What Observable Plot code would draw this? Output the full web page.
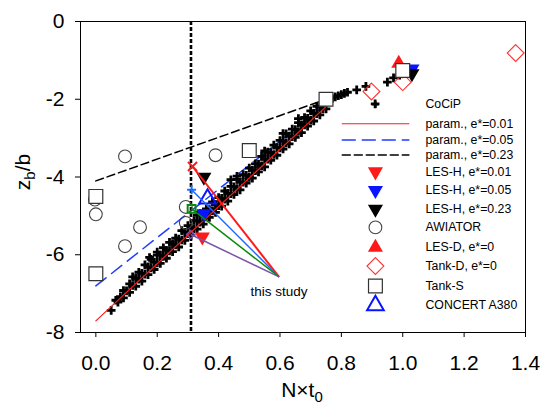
<!DOCTYPE html>
<html>
<head>
<meta charset="utf-8">
<script src="https://cdn.jsdelivr.net/npm/d3@7"></script>
<script src="https://cdn.jsdelivr.net/npm/@observablehq/plot@0.6"></script>
<style>
  body { margin: 0; background: #fff; }
  svg { display: block; }
</style>
</head>
<body>
<div id="chart"></div>
<script>
// Axis ticks
const xTicks = [0, 0.2, 0.4, 0.6, 0.8, 1.0, 1.2, 1.4];
const xTickLabels = ["0.0", "0.2", "0.4", "0.6", "0.8", "1.0", "1.2", "1.4"];
const yTicks = [-8, -6, -4, -2, 0];
const yTickLabels = ["-8", "-6", "-4", "-2", "0"];

// CoCiP simulation cloud (N*t0, zb/b)
const cocipX = [
  0.12,0.14,0.16,0.18,0.20,0.22,0.24,0.26,0.28,0.30,0.32,0.34,0.36,0.38,0.40,0.42,0.44,0.46,0.48,0.50,
  0.52,0.54,0.56,0.58,0.60,0.62,0.64,0.66,0.68,0.70,0.72,
  0.09,0.11,0.13,0.15,0.17,0.19,0.21,0.23,0.25,0.27,0.29,0.31,0.33,0.35,0.37,0.39,0.41,0.43,0.45,0.47,
  0.49,0.51,0.53,0.55,0.57,0.59,0.61,0.63,0.65,0.67,0.69,0.71,0.73,
  0.08,0.10,0.12,0.14,0.16,0.18,0.20,0.22,0.24,0.26,0.28,0.30,0.32,0.34,0.36,0.38,0.40,0.42,0.44,0.46,
  0.48,0.50,0.52,0.54,0.56,0.58,0.60,0.62,0.64,0.66,0.68,0.70,0.72,0.74,
  0.09,0.11,0.13,0.15,0.17,0.19,0.21,0.23,0.25,0.27,0.29,0.31,0.33,0.35,0.37,0.39,0.41,0.43,0.45,0.47,
  0.49,0.51,0.53,0.55,0.57,0.59,0.61,0.63,0.65,0.67,0.69,0.71,0.73,0.75,
  0.05,0.065,0.072,0.175,0.20,0.33,0.44,0.46,0.55,0.61,0.66,0.76,0.77,0.78,0.79,0.80,0.81,0.82,0.85,0.88,
  0.91,0.95,0.97,0.99
];
const cocipY = [
  -6.57,-6.45,-6.26,-6.12,-6.01,-5.82,-5.68,-5.57,-5.38,-5.25,-5.12,-4.94,-4.82,-4.64,-4.53,-4.36,-4.24,-4.06,-3.94,-3.77,
  -3.66,-3.47,-3.36,-3.18,-3.06,-2.89,-2.77,-2.60,-2.47,-2.30,-2.18,
  -6.92,-6.75,-6.60,-6.48,-6.31,-6.19,-6.01,-5.89,-5.72,-5.60,-5.42,-5.30,-5.13,-5.01,-4.84,-4.71,-4.55,-4.42,-4.25,-4.13,
  -3.96,-3.83,-3.67,-3.54,-3.37,-3.24,-3.08,-2.95,-2.78,-2.66,-2.49,-2.36,-2.20,
  -7.08,-6.93,-6.79,-6.63,-6.50,-6.34,-6.21,-6.04,-5.90,-5.75,-5.62,-5.46,-5.33,-5.16,-5.03,-4.87,-4.74,-4.57,-4.43,-4.30,
  -4.13,-4.01,-3.84,-3.71,-3.54,-3.42,-3.25,-3.12,-2.96,-2.83,-2.66,-2.54,-2.37,-2.24,
  -7.11,-6.97,-6.81,-6.68,-6.51,-6.38,-6.22,-6.09,-5.92,-5.80,-5.63,-5.50,-5.34,-5.21,-5.04,-4.91,-4.75,-4.62,-4.45,-4.33,
  -4.16,-4.03,-3.87,-3.74,-3.57,-3.44,-3.28,-3.15,-2.98,-2.86,-2.69,-2.56,-2.40,-2.25,
  -7.43,-7.17,-7.22,-6.07,-5.93,-4.98,-4.07,-3.98,-3.33,-2.88,-2.50,-2.03,-1.98,-1.94,-1.91,-1.88,-1.85,-1.82,-1.76,-1.67,
  -2.12,-1.56,-1.45,-1.38
];

// Parameterisation lines for three e* values
const paramX = [0, 0.75];
const param001Y = [-7.70, -2.19];
const param005Y = [-6.80, -2.14];
const param023Y = [-4.10, -2.00];

// LES-H results
const lesH001X = [0.347, 1.00];  const lesH001Y = [-5.54, -1.25];
const lesH005X = [0.352, 1.03];  const lesH005Y = [-4.94, -1.22];
const lesH023X = [0.352, 1.03];  const lesH023Y = [-4.00, -1.34];

// AWIATOR
const awiatorX = [0.095, 0.0, -0.003, 0.095, 0.144, 0.293, 0.293, 0.39];
const awiatorY = [-3.47, -4.96, -4.58, -5.78, -5.29, -4.77, -5.18, -3.44];

// LES-D, Tank-D, Tank-S, CONCERT
const lesDX = [0.987];            const lesDY = [-1.08];
const tankDX = [0.898, 1.0, 1.368]; const tankDY = [-1.80, -1.56, -0.81];
const tankSX = [0.0, 0.0, 0.5, 0.75, 1.0]; const tankSY = [-4.50, -6.49, -3.32, -2.00, -1.26];
const concertX = [0.364];         const concertY = [-4.56];

// This study
const studyX = [0.315, 0.312, 0.312, 0.309];
const studyY = [-3.73, -4.33, -4.82, -5.48];
const studyLabel = "this study";
const studyLabelAt = [0.597, -6.57];

// Reference stability value (vertical line)
const refNt0 = 0.31;

const legendLabels = [
  "CoCiP", "param., e*=0.01", "param., e*=0.05", "param., e*=0.23",
  "LES-H, e*=0.01", "LES-H, e*=0.05", "LES-H, e*=0.23", "AWIATOR",
  "LES-D, e*=0", "Tank-D, e*=0", "Tank-S", "CONCERT A380"
];

// ---- symbols & styles ----
const triangleDown = {
  draw(context, size) {
    const y = Math.sqrt(size / (Math.sqrt(3) * 3));
    context.moveTo(0, y * 2);
    context.lineTo(-Math.sqrt(3) * y, -y);
    context.lineTo(Math.sqrt(3) * y, -y);
    context.closePath();
  }
};

const RED = "#ff1a1a", BLUE = "#0a14ff", DASHBLUE = "#1f3dff";

const st = {
  cocipCloud: {symbol: "plus", r: 2.9, stroke: "black", strokeWidth: 2.8, fill: "none"},
  cocip:   {symbol: "plus", r: 2.3, stroke: "black", strokeWidth: 2.2, fill: "none"},
  les001:  {symbol: triangleDown, r: 5.6, fill: RED, stroke: "none"},
  les005:  {symbol: triangleDown, r: 5.6, fill: BLUE, stroke: "none"},
  les023:  {symbol: triangleDown, r: 5.6, fill: "black", stroke: "none"},
  awiator: {symbol: "circle", r: 6.4, fill: "none", stroke: "#444", strokeWidth: 1.1},
  lesD:    {symbol: "triangle", r: 5.6, fill: RED, stroke: "none"},
  tankD:   {symbol: "diamond2", r: 7.6, fill: "none", stroke: "#ff3030", strokeWidth: 1.1},
  tankS:   {symbol: "square", r: 7.8, fill: "white", stroke: "#333", strokeWidth: 1.2},
  concert: {symbol: "triangle", r: 6.2, fill: "none", stroke: BLUE, strokeWidth: 2}
};
const lineSt = {
  p001: {stroke: RED, strokeWidth: 1.2},
  p005: {stroke: DASHBLUE, strokeWidth: 1.5, strokeDasharray: "13,7"},
  p023: {stroke: "black", strokeWidth: 1.5, strokeDasharray: "8,4"}
};

const studySt = [
  {color: RED,       symbol: "times",    r: 4.2, strokeWidth: 2,   linkWidth: 2},
  {color: "#1f6bff", symbol: "plus",     r: 3.0, strokeWidth: 2,   linkWidth: 1.5},
  {color: "#0a8a0a", symbol: "square2",  r: 5.0, strokeWidth: 2,   linkWidth: 1.5},
  {color: "#7a55a8", symbol: "diamond2", r: 3.6, strokeWidth: 1.5, linkWidth: 1.5}
];

const pts = (xs, ys) => xs.map((x, i) => ({x, y: ys[i]}));
const dots = (xs, ys, s) => Plot.dot(pts(xs, ys), {x: "x", y: "y", ...s});
const pline = (ys, s) => Plot.line(pts(paramX, ys), {x: "x", y: "y", ...s});

// ---- legend layout (data coordinates inside the frame) ----
const legSymX = 0.911, legTextX = 1.074, legLine = [0.803, 1.020];
const legRowY = [-2.134, -2.630, -3.051, -3.437, -3.864, -4.344, -4.825, -5.296, -5.810, -6.290, -6.805, -7.301];
const legKinds = [st.cocip, lineSt.p001, lineSt.p005, lineSt.p023, st.les001, st.les005, st.les023,
                  st.awiator, st.lesD, st.tankD, st.tankS, st.concert];
const legendMarks = [];
legKinds.forEach((s, i) => {
  if (i >= 1 && i <= 3) {
    legendMarks.push(Plot.line([{x: legLine[0], y: legRowY[i]}, {x: legLine[1], y: legRowY[i]}], {x: "x", y: "y", ...s}));
  } else {
    legendMarks.push(Plot.dot([{x: legSymX, y: legRowY[i]}], {x: "x", y: "y", ...s}));
  }
});
legendMarks.push(Plot.text(legendLabels.map((t, i) => ({t, y: legRowY[i]})), {
  x: legTextX, y: "y", text: "t", textAnchor: "start", fontSize: 12.3, fill: "black"
}));

// ---- "this study" links ----
const studyData = studyX.map((x, i) => ({x, y: studyY[i], ...studySt[i]}));
const studyMarks = [];
studyData.forEach(d => {
  studyMarks.push(Plot.link([d], {x1: "x", y1: "y", x2: studyLabelAt[0], y2: studyLabelAt[1],
    stroke: d.color, strokeWidth: d.linkWidth}));
});
studyData.forEach(d => {
  studyMarks.push(Plot.dot([d], {x: "x", y: "y", symbol: d.symbol, r: d.r, stroke: d.color,
    strokeWidth: d.strokeWidth, fill: "none"}));
});

const plot = Plot.plot({
  width: 541,
  height: 404,
  marginLeft: 80,
  marginRight: 16,
  marginTop: 21,
  marginBottom: 72,
  style: {fontFamily: "'Liberation Sans', Arial, Helvetica, sans-serif", background: "white", color: "black"},
  x: {domain: [-0.05, 1.4]},
  y: {domain: [-8, 0]},
  marks: [
    Plot.axisX({ticks: xTicks, tickFormat: d => xTickLabels[xTicks.indexOf(d)], tickSize: 5, tickPadding: 18,
      fontSize: 21, label: null}),
    Plot.axisY({ticks: yTicks, tickFormat: d => yTickLabels[yTicks.indexOf(d)], tickSize: 5, tickPadding: 11,
      fontSize: 21, label: null}),
    pline(param023Y, lineSt.p023),
    pline(param005Y, lineSt.p005),
    Plot.ruleX([refNt0], {stroke: "black", strokeWidth: 2.6, strokeDasharray: "4,2"}),
    dots(cocipX, cocipY, st.cocipCloud),
    pline(param001Y, lineSt.p001),
    dots(awiatorX, awiatorY, st.awiator),
    dots(tankDX, tankDY, st.tankD),
    dots(lesH001X, lesH001Y, st.les001),
    dots(lesH005X, lesH005Y, st.les005),
    dots(lesH023X, lesH023Y, st.les023),
    dots(lesDX, lesDY, st.lesD),
    dots(tankSX, tankSY, st.tankS),
    dots(concertX, concertY, st.concert),
    ...studyMarks,
    Plot.text([{x: studyLabelAt[0], y: -6.96}], {x: "x", y: "y", text: () => studyLabel, fontSize: 13.5, fill: "black"}),
    ...legendMarks,
    Plot.frame({stroke: "black", strokeWidth: 1})
  ]
});

// Axis titles with subscripts
const svg = d3.select(plot);
const xl = svg.append("text")
  .attr("x", 302).attr("y", 397).attr("text-anchor", "middle")
  .attr("font-size", 21).attr("fill", "black");
xl.append("tspan").text("N×t");
xl.append("tspan").attr("dy", 5).attr("font-size", 15).text("0");

const yl = svg.append("text")
  .attr("transform", "translate(30,172) rotate(-90)").attr("text-anchor", "middle")
  .attr("font-size", 21).attr("fill", "black");
yl.append("tspan").text("z");
yl.append("tspan").attr("dy", 5).attr("font-size", 15).text("b");
yl.append("tspan").attr("dy", -5).text("/b");

document.getElementById("chart").appendChild(plot);
</script>
</body>
</html>
